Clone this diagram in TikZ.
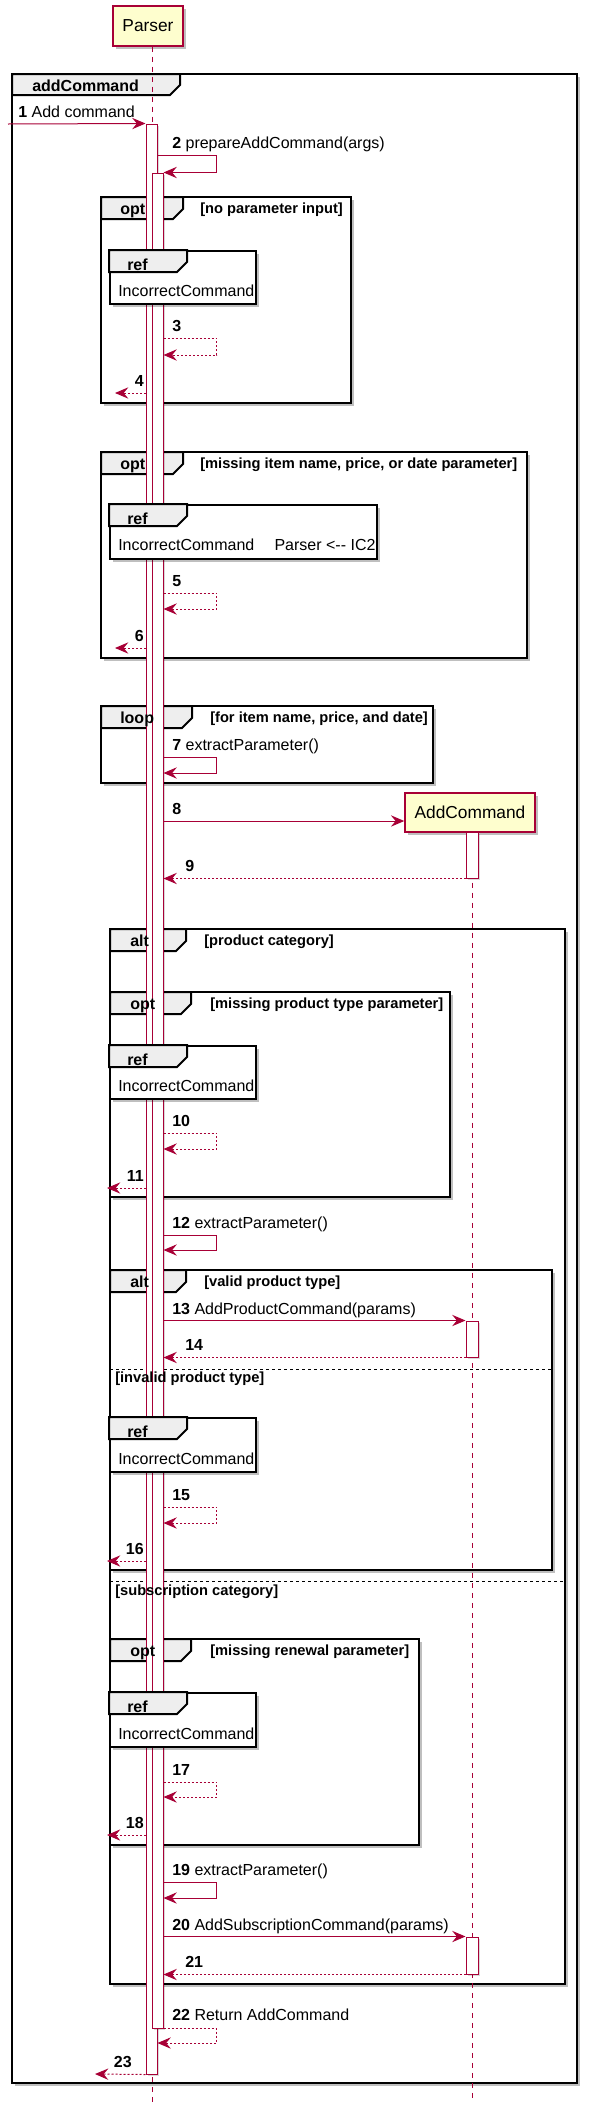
\documentclass[tikz,border=0pt]{standalone}
\usepackage{fontspec}
\setmainfont{Liberation Sans}
\usetikzlibrary{arrows.meta,fit,shadows}
\definecolor{SeqRed}{HTML}{A80036}
\definecolor{SeqNote}{HTML}{FEFECE}
\definecolor{SeqTab}{HTML}{EEEEEE}

\begin{document}
\begin{tikzpicture}[x=0.75pt,y=-0.75pt,
  >={Stealth[length=10pt,width=8.5pt,inset=3.5pt]},
  shd/.style={drop shadow={shadow xshift=2.2pt,shadow yshift=-2.2pt,fill=black,opacity=0.25}},
  part/.style={draw=SeqRed,line width=1.1pt,fill=SeqNote,inner sep=0pt,shd,
               font=\fontsize{13}{15}\selectfont},
  life/.style={SeqRed,line width=0.75pt,dash pattern=on 3.75pt off 3.75pt},
  bar/.style={draw=SeqRed,line width=0.75pt,fill=white,inner sep=0pt,
              drop shadow={shadow xshift=1.5pt,shadow yshift=-1.5pt,fill=black,opacity=0.15}},
  call/.style={->,SeqRed,line width=0.75pt},
  reply/.style={->,SeqRed,line width=0.75pt,dash pattern=on 1.5pt off 1.5pt},
  lbl/.style={anchor=base west,inner sep=0pt,font=\fontsize{12}{14}\selectfont},
  lbll/.style={lbl,anchor=base east},
  frm/.style={draw=black,line width=1.5pt,fill=white,shd},
  tabst/.style={draw=black,line width=1.5pt,fill=SeqTab},
  fhead/.style={anchor=base west,inner sep=0pt,font=\bfseries\fontsize{12}{14}\selectfont},
  guard/.style={anchor=base west,inner sep=0pt,font=\bfseries\fontsize{11}{13}\selectfont},
  elsesep/.style={draw=black,line width=0.75pt,dash pattern=on 2.25pt off 2.25pt},
  refbox/.style={draw=black,line width=1.5pt,fill=white,inner sep=0pt,shd},
]
\useasboundingbox (0,0) rectangle (593,2113);

% combined fragments
\draw[frm] (12,74) rectangle (577,2083);
\draw[tabst] (12,74) -- (180,74) -- (180,85) -- (170,95) -- (12,95) -- cycle;
\draw[frm] (101,197) rectangle (351,403);
\draw[tabst] (101,197) -- (183,197) -- (183,209) -- (173,219) -- (101,219) -- cycle;
\draw[frm] (101,452) rectangle (527,658);
\draw[tabst] (101,452) -- (183,452) -- (183,464) -- (173,474) -- (101,474) -- cycle;
\draw[frm] (101,706) rectangle (433,783);
\draw[tabst] (101,706) -- (192,706) -- (192,718) -- (182,728) -- (101,728) -- cycle;
\draw[frm] (110,929) rectangle (565,1984);
\draw[tabst] (110,929) -- (186,929) -- (186,941) -- (176,951) -- (110,951) -- cycle;
\draw[elsesep] (110,1581) -- (565,1581);
\draw[frm] (110,992) rectangle (450,1197);
\draw[tabst] (110,992) -- (191,992) -- (191,1004) -- (181,1014) -- (110,1014) -- cycle;
\draw[frm] (110,1270) rectangle (552,1570);
\draw[tabst] (110,1270) -- (186,1270) -- (186,1282) -- (176,1292) -- (110,1292) -- cycle;
\draw[elsesep] (110,1369) -- (552,1369);
\draw[frm] (110,1639) rectangle (419,1845);
\draw[tabst] (110,1639) -- (191,1639) -- (191,1651) -- (181,1661) -- (110,1661) -- cycle;

% participants and lifelines
\node[part,minimum width=52.5pt,minimum height=30pt] (parser) at (148,26) {Parser};
\node[part,minimum width=97.5pt,minimum height=29.25pt] (addcmd) at (470,812.5) {AddCommand};
\coordinate (parserEnd) at (152,2102);
\coordinate (addEnd) at (472,2102);
\draw[life] (parser.south -| parserEnd) -- (parserEnd);
\draw[life] (addcmd.south -| addEnd) -- (addEnd);

\node[bar,fit={(146,124)(157,2074)}] (act1) {};
\node[bar,fit={(152,173)(163,2028)}] (act2) {};
\node[bar,fit={(466,832)(478,878)}] (act3) {};
\node[bar,fit={(466,1321)(478,1357)}] (act4) {};
\node[bar,fit={(466,1937)(478,1974)}] (act5) {};

% messages
\coordinate (in1) at (8,124);
\draw[call] (in1) -- (act1.north west);
\node[lbl] (m1) at (18,117.5) {\textbf{1} Add command};

\draw[call] (act1.east |- 0,155) -- ++(59,0) |- (act2.north east);
\node[lbl] (m2) at (172,148.5) {\textbf{2} prepareAddCommand(args)};

\draw[reply] (act2.east |- 0,338) -- ++(53,0) |- (act2.east |- 0,355);
\node[lbl] (m3) at (172,331.5) {\textbf{3}};

\coordinate (out4) at (115,393);
\draw[reply] (act1.west |- out4) -- (out4);
\node[lbll] (m4) at (144,386.5) {\textbf{4}};

\draw[reply] (act2.east |- 0,593) -- ++(53,0) |- (act2.east |- 0,609);
\node[lbl] (m5) at (172,586.5) {\textbf{5}};

\coordinate (out6) at (115,648);
\draw[reply] (act1.west |- out6) -- (out6);
\node[lbll] (m6) at (144,641.5) {\textbf{6}};

\draw[call] (act2.east |- 0,757) -- ++(53,0) |- (act2.east |- 0,773);
\node[lbl] (m7) at (172,750.5) {\textbf{7} extractParameter()};

\draw[call] (act2.east |- 0,821) -- (addcmd.west |- 0,821);
\node[lbl] (m8) at (172,814.5) {\textbf{8}};

\draw[reply] (act3.south west) -- (act2.east |- act3.south west);
\node[lbl] (m9) at (185,871.5) {\textbf{9}};

\draw[reply] (act2.east |- 0,1133) -- ++(53,0) |- (act2.east |- 0,1149);
\node[lbl] (m10) at (172,1126.5) {\textbf{10}};

\coordinate (out11) at (107,1188);
\draw[reply] (act1.west |- out11) -- (out11);
\node[lbll] (m11) at (144,1181.5) {\textbf{11}};

\draw[call] (act2.east |- 0,1235) -- ++(53,0) |- (act2.east |- 0,1250);
\node[lbl] (m12) at (172,1228.5) {\textbf{12} extractParameter()};

\draw[call] (act2.east |- act4.north) -- (act4.north west);
\node[lbl] (m13) at (172,1314.5) {\textbf{13} AddProductCommand(params)};

\draw[reply] (act4.south west) -- (act2.east |- act4.south);
\node[lbl] (m14) at (185,1350.5) {\textbf{14}};

\draw[reply] (act2.east |- 0,1507) -- ++(53,0) |- (act2.east |- 0,1523);
\node[lbl] (m15) at (172,1500.5) {\textbf{15}};

\coordinate (out16) at (107,1561);
\draw[reply] (act1.west |- out16) -- (out16);
\node[lbll] (m16) at (144,1554.5) {\textbf{16}};

\draw[reply] (act2.east |- 0,1782) -- ++(53,0) |- (act2.east |- 0,1797);
\node[lbl] (m17) at (172,1775.5) {\textbf{17}};

\coordinate (out18) at (107,1835);
\draw[reply] (act1.west |- out18) -- (out18);
\node[lbll] (m18) at (144,1828.5) {\textbf{18}};

\draw[call] (act2.east |- 0,1882) -- ++(53,0) |- (act2.east |- 0,1898);
\node[lbl] (m19) at (172,1875.5) {\textbf{19} extractParameter()};

\draw[call] (act2.east |- act5.north) -- (act5.north west);
\node[lbl] (m20) at (172,1930.5) {\textbf{20} AddSubscriptionCommand(params)};

\draw[reply] (act5.south west) -- (act2.east |- act5.south);
\node[lbl] (m21) at (185,1967.5) {\textbf{21}};

\draw[reply] (act2.south east) -- ++(53,0) |- (act1.east |- 0,2043);
\node[lbl] (m22) at (172,2020.5) {\textbf{22} Return AddCommand};

\coordinate (out23) at (95,2074);
\draw[reply] (act1.south west) -- (out23);
\node[lbll] (m23) at (132,2067.5) {\textbf{23}};

% interaction references
\node[refbox,fit={(110,251)(256,304)}] (ref1) {};
\draw[tabst] (ref1.north west) -- ++(78,0) -- ++(0,12) -- ++(-10,10) -- ++(-68,0) -- cycle;
\node[fhead] (ref1h) at (127,270) {ref};
\node[lbl] (ref1t) at (118,296.5) {IncorrectCommand};

\node[refbox,fit={(110,505)(377,559)}] (ref2) {};
\draw[tabst] (ref2.north west) -- ++(78,0) -- ++(0,12) -- ++(-10,10) -- ++(-68,0) -- cycle;
\node[fhead] (ref2h) at (127,524) {ref};
\node[lbl] (ref2t) at (118,550.5) {IncorrectCommand\hspace{15.2pt}Parser <-{}- IC2};

\node[refbox,fit={(110,1046)(256,1099)}] (ref3) {};
\draw[tabst] (ref3.north west) -- ++(78,0) -- ++(0,12) -- ++(-10,10) -- ++(-68,0) -- cycle;
\node[fhead] (ref3h) at (127,1065) {ref};
\node[lbl] (ref3t) at (118,1091.5) {IncorrectCommand};

\node[refbox,fit={(110,1418)(256,1472)}] (ref4) {};
\draw[tabst] (ref4.north west) -- ++(78,0) -- ++(0,12) -- ++(-10,10) -- ++(-68,0) -- cycle;
\node[fhead] (ref4h) at (127,1437) {ref};
\node[lbl] (ref4t) at (118,1464) {IncorrectCommand};

\node[refbox,fit={(110,1693)(256,1747)}] (ref5) {};
\draw[tabst] (ref5.north west) -- ++(78,0) -- ++(0,12) -- ++(-10,10) -- ++(-68,0) -- cycle;
\node[fhead] (ref5h) at (127,1712) {ref};
\node[lbl] (ref5t) at (118,1739) {IncorrectCommand};

% fragment titles and guards
\node[fhead] (addh) at (32,91.5) {addCommand};
\node[fhead] (opt1h) at (120,214.5) {opt};
\node[guard] (opt1g) at (200,213) {[no parameter input]};
\node[fhead] (opt2h) at (120,469.5) {opt};
\node[guard] (opt2g) at (200,468) {[missing item name, price, or date parameter]};
\node[fhead] (looph) at (120,723.5) {loop};
\node[guard] (loopg) at (210,722) {[for item name, price, and date]};
\node[fhead] (alt1h) at (130,946.5) {alt};
\node[guard] (alt1g) at (204,945) {[product category]};
\node[guard] (alt1e) at (115,1595) {[subscription category]};
\node[fhead] (opt3h) at (130,1009.5) {opt};
\node[guard] (opt3g) at (210,1008) {[missing product type parameter]};
\node[fhead] (alt2h) at (130,1287.5) {alt};
\node[guard] (alt2g) at (204,1286) {[valid product type]};
\node[guard] (alt2e) at (115,1382.5) {[invalid product type]};
\node[fhead] (opt4h) at (130,1656.5) {opt};
\node[guard] (opt4g) at (210,1655) {[missing renewal parameter]};
\end{tikzpicture}
\end{document}
